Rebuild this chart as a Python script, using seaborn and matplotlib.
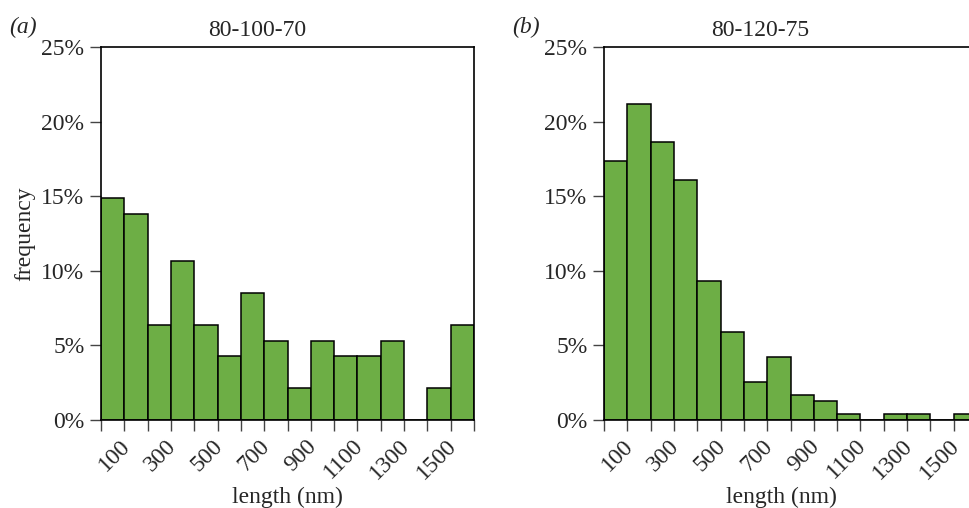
import numpy as np
import pandas as pd
import matplotlib
matplotlib.use("Agg")
import matplotlib.pyplot as plt
import matplotlib.transforms as mtransforms
import seaborn as sns

# ---- data (percent of particles per 100 nm length bin) ----
bin_edges = list(range(0, 1700, 100))
freq_a = [14.89, 13.83, 6.38, 10.64, 6.38, 4.26, 8.51, 5.32, 2.13, 5.32,
          4.26, 4.26, 5.32, 0.0, 2.13, 6.38]
freq_b = [17.37, 21.19, 18.64, 16.10, 9.32, 5.93, 2.54, 4.24, 1.69, 1.27,
          0.42, 0.0, 0.42, 0.42, 0.0, 0.42]
titles = ["80-100-70", "80-120-75"]
panel_tags = ["a", "b"]
xtick_vals = [100, 300, 500, 700, 900, 1100, 1300, 1500]
ytick_vals = [0, 5, 10, 15, 20, 25]

sns.set_theme(style="ticks")
plt.rcParams["font.family"] = ["Liberation Serif", "DejaVu Serif"]

W, H = 969, 508
fig = plt.figure(figsize=(W / 100, H / 100), dpi=100)

FS = 17
green = "#6DAE45"
lefts = [101, 604]
ax_w, ax_top, ax_bot = 373, 47, 420
shift = mtransforms.ScaledTranslation(-5 / 100, 0, fig.dpi_scale_trans)

for i, (vals, title, tag) in enumerate(zip([freq_a, freq_b], titles, panel_tags)):
    ax = fig.add_axes([lefts[i] / W, (H - ax_bot) / H, ax_w / W, (ax_bot - ax_top) / H])
    centers = [(bin_edges[k] + bin_edges[k + 1]) / 2 for k in range(len(vals))]
    df = pd.DataFrame({"length": centers, "freq": vals})
    sns.histplot(data=df, x="length", weights="freq", bins=bin_edges, ax=ax,
                 color=green, edgecolor="black", linewidth=1.1, alpha=1.0)
    ax.set_xlim(bin_edges[0], bin_edges[-1])
    ax.set_ylim(0, 25)
    ax.tick_params(axis="x", length=8, width=1.0, color="#444444", pad=3)
    ax.tick_params(axis="y", length=8, width=1.0, color="#444444", pad=4)
    ax.set_xticks(bin_edges)
    ax.set_xticklabels([str(v) if v in xtick_vals else "" for v in bin_edges],
                       rotation=45, ha="right", rotation_mode="anchor", fontsize=FS)
    for lab in ax.get_xticklabels():
        lab.set_transform(lab.get_transform() + shift)
    ax.set_yticks(ytick_vals)
    ax.set_yticklabels([f"{v}%" for v in ytick_vals], fontsize=FS)
    for s in ax.spines.values():
        s.set_visible(True)
        s.set_color("black")
        s.set_linewidth(1.2)
    ax.set_xlabel("length (nm)", fontsize=FS)
    ax.xaxis.set_label_coords(0.5 if i == 0 else 0.475, -0.178)
    if i == 0:
        ax.set_ylabel("frequency", fontsize=FS)
        ax.yaxis.set_label_coords(-0.177, 0.5)
    else:
        ax.set_ylabel("")
    ax.text(0.42, 1.016, title, transform=ax.transAxes, ha="center", va="bottom", fontsize=FS)
    ax.text(-0.245, 1.025, f"({tag})", transform=ax.transAxes,
            ha="left", va="bottom", fontsize=FS, style="italic")

fig.savefig("out.png", dpi=100)
